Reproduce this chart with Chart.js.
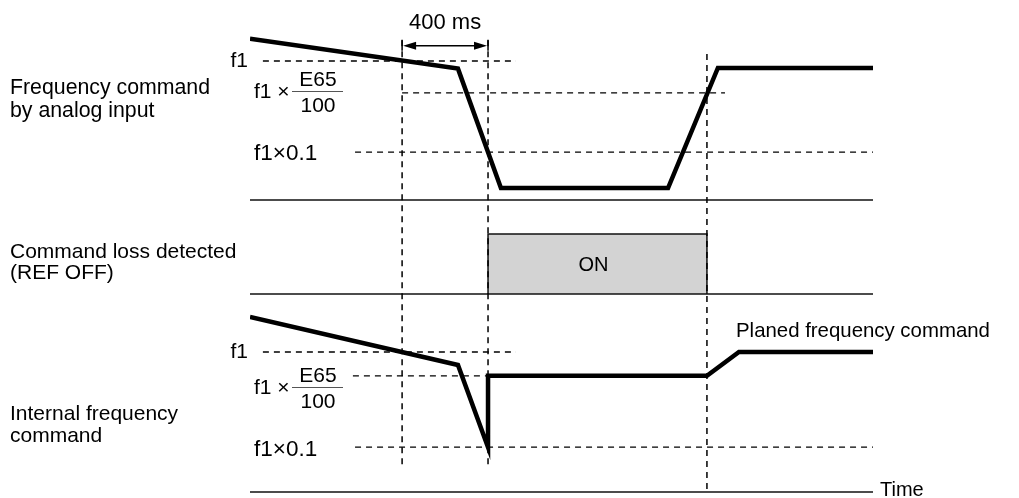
<!DOCTYPE html>
<html>
<head>
<meta charset="utf-8">
<script src="https://cdn.jsdelivr.net/npm/chart.js@4.4.1/dist/chart.umd.min.js"></script>
<style>
    body { margin: 0; background: #fff; }
    #quadro { position: relative; width: 1019px; height: 498px; overflow: hidden; }
    #diagrama { position: absolute; left: 0; top: 0; }
    .rotulo {
        position: absolute;
        font-family: "Liberation Sans", Arial, sans-serif;
        font-size: 20px;
        line-height: 20px;
        color: #000;
        white-space: nowrap;
    }
    .barra { position: absolute; height: 0; border-top: 1.5px solid #555; }
</style>
</head>
<body>
<div id="quadro">
    <canvas id="diagrama" width="1019" height="498"></canvas>
</div>
<script>
// tempo em ms, níveis em % de f1 (o diagrama é esquemático)
const tempoAnalogico = [0, 968, 1168, 1946, 2178, 2900]
const nivelAnalogico = [116, 94.5, 8.6, 8.6, 95, 95]

const tempoInterno = [0, 968, 1108, 1108, 2127, 2276, 2900]
const nivelInterno = [125, 90.7, 32, 83, 83, 100, 100]

// REF OFF ligado entre estes dois instantes
const tempoRefOff = [1108, 2127]

// linhas de referência: f1, f1 x E65/100, f1 x 0.1
const nivelRefAnalogico = [100, 77, 34.5]
const inicioRefAnalogico = [60, 708, 489]
const fimRefAnalogico = [1238, 2211, 2900]
const nivelRefInterno = [100, 83, 32]
const inicioRefInterno = [60, 479, 489]
const fimRefInterno = [1238, 1108, 2900]

// marcas verticais tracejadas
const tempoMarcas = [708, 1108, 2127]
const topoMarcas = [115, 115, 105]   // nível no painel de cima
const fundoMarcas = [18, 18, 0]      // nível no painel de baixo

const tempoFinal = 2900
const atrasoDeteccao = 400 // ms

const titulos = [
    ['Frequency command', 'by analog input'],
    ['Command loss detected', '(REF OFF)'],
    ['Internal frequency', 'command']
]

const ALTURA = 498

// faixa do eixo para que o nível 0 caia em basePx
function faixa(basePx, pxPorUnidade) {
    return { min: -(ALTURA - basePx) / pxPorUnidade, max: basePx / pxPorUnidade }
}

function pontos(xs, ys) {
    return xs.map((x, i) => ({ x: x, y: ys[i] }))
}

function linhaBase(eixo) {
    return {
        data: pontos([0, tempoFinal], [0, 0]),
        yAxisID: eixo,
        borderColor: '#111',
        borderWidth: 1.5,
        pointRadius: 0,
        order: 4
    }
}

function tracejadas(niveis, inicios, fins, eixo) {
    return niveis.map((n, i) => ({
        data: pontos([inicios[i], fins[i]], [n, n]),
        yAxisID: eixo,
        borderColor: '#000',
        borderWidth: 1.3,
        borderDash: [6, 5],
        pointRadius: 0,
        order: 3
    }))
}

function sinal(xs, ys, eixo) {
    return {
        data: pontos(xs, ys),
        yAxisID: eixo,
        borderColor: '#000',
        borderWidth: 4.5,
        borderJoinStyle: 'miter',
        borderCapStyle: 'butt',
        pointRadius: 0,
        tension: 0,
        order: 0
    }
}

// marcas verticais e a seta de 400 ms
const marcasPlugin = {
    id: 'marcas',
    afterDatasetsDraw(chart) {
        const { ctx, scales } = chart
        const x = scales.x
        const yA = scales.yAnalogico
        const yI = scales.yInterno

        ctx.save()
        ctx.strokeStyle = '#000'
        ctx.lineWidth = 1.5
        ctx.setLineDash([6, 5])
        tempoMarcas.forEach((t, i) => {
            const px = x.getPixelForValue(t)
            ctx.beginPath()
            ctx.moveTo(px, yA.getPixelForValue(topoMarcas[i]))
            ctx.lineTo(px, yI.getPixelForValue(fundoMarcas[i]))
            ctx.stroke()
        })

        // seta dupla
        ctx.setLineDash([])
        const x1 = x.getPixelForValue(tempoMarcas[1] - atrasoDeteccao)
        const x2 = x.getPixelForValue(tempoMarcas[1])
        const ys = yA.getPixelForValue(111)
        ctx.beginPath()
        ctx.moveTo(x1, ys - 6)
        ctx.lineTo(x1, ys + 5)
        ctx.moveTo(x2, ys - 6)
        ctx.lineTo(x2, ys + 5)
        ctx.moveTo(x1 + 8, ys)
        ctx.lineTo(x2 - 8, ys)
        ctx.stroke()
        ctx.fillStyle = '#000'
        ctx.beginPath()
        ctx.moveTo(x1 + 1, ys)
        ctx.lineTo(x1 + 14, ys - 4)
        ctx.lineTo(x1 + 14, ys + 4)
        ctx.closePath()
        ctx.moveTo(x2 - 1, ys)
        ctx.lineTo(x2 - 14, ys - 4)
        ctx.lineTo(x2 - 14, ys + 4)
        ctx.closePath()
        ctx.fill()
        ctx.restore()
    }
}

const quadro = document.getElementById('quadro')

// (x, y) = ponto de ancoragem; y é o centro vertical do texto
function rotulo(texto, x, y, alinhar, tamanho) {
    const el = document.createElement('div')
    el.className = 'rotulo'
    el.textContent = texto
    if (tamanho) el.style.fontSize = tamanho + 'px'
    el.style.left = x + 'px'
    el.style.top = (y - 10) + 'px'
    if (alinhar === 'centro') el.style.transform = 'translateX(-50%)'
    if (alinhar === 'direita') el.style.transform = 'translateX(-100%)'
    quadro.appendChild(el)
    return el
}

function fracao(x, yBarra) {
    rotulo('f1 ×', x, yBarra, null, 21)
    const barra = document.createElement('div')
    barra.className = 'barra'
    barra.style.left = (x + 38) + 'px'
    barra.style.width = '51px'
    barra.style.top = yBarra + 'px'
    quadro.appendChild(barra)
    rotulo('E65', x + 64, yBarra - 12, 'centro', 21)
    rotulo('100', x + 64, yBarra + 14, 'centro', 21)
}

function posicionarRotulos(chart) {
    const x = chart.scales.x
    const yA = chart.scales.yAnalogico
    const yR = chart.scales.yRef
    const yI = chart.scales.yInterno

    rotulo(titulos[0][0], 10, 87, null, 21.3)
    rotulo(titulos[0][1], 10, 110, null, 21.3)
    rotulo(titulos[1][0], 10, 251, null, 21)
    rotulo(titulos[1][1], 10, 272, null, 21)
    rotulo(titulos[2][0], 10, 413, null, 21)
    rotulo(titulos[2][1], 10, 435, null, 21)

    rotulo('f1', 248, yA.getPixelForValue(nivelRefAnalogico[0]) - 1.5, 'direita', 21)
    fracao(254, yA.getPixelForValue(nivelRefAnalogico[1]) - 2)
    rotulo('f1×0.1', 254, yA.getPixelForValue(nivelRefAnalogico[2]) + 1, null, 22.5)

    rotulo('f1', 248, yI.getPixelForValue(nivelRefInterno[0]) - 1, 'direita', 21)
    fracao(254, yI.getPixelForValue(nivelRefInterno[1]) + 11)
    rotulo('f1×0.1', 254, yI.getPixelForValue(nivelRefInterno[2]) + 2, null, 22.5)

    const meio = (x.getPixelForValue(tempoMarcas[1] - atrasoDeteccao) + x.getPixelForValue(tempoMarcas[1])) / 2
    rotulo(atrasoDeteccao + ' ms', meio, 21.5, 'centro', 22)
    rotulo('ON', (x.getPixelForValue(tempoRefOff[0]) + x.getPixelForValue(tempoRefOff[1])) / 2 - 4, yR.getPixelForValue(0.5), 'centro')
    rotulo('Planed frequency command', 736, 330, null, 20.4)
    rotulo('Time', x.getPixelForValue(tempoFinal) + 7, 489)
}

const ctx = document.getElementById('diagrama').getContext('2d')

const grafico = new Chart(ctx, {
    type: 'line',
    data: {
        datasets: [
            sinal(tempoAnalogico, nivelAnalogico, 'yAnalogico'),
            sinal(tempoInterno, nivelInterno, 'yInterno'),
            ...tracejadas(nivelRefAnalogico, inicioRefAnalogico, fimRefAnalogico, 'yAnalogico'),
            ...tracejadas(nivelRefInterno, inicioRefInterno, fimRefInterno, 'yInterno'),
            linhaBase('yAnalogico'),
            linhaBase('yRef'),
            linhaBase('yInterno'),
            {
                data: pontos([tempoRefOff[0], tempoRefOff[0], tempoRefOff[1], tempoRefOff[1]], [0, 1, 1, 0]),
                yAxisID: 'yRef',
                borderColor: '#111',
                borderWidth: 1.5,
                backgroundColor: '#d3d3d3',
                fill: 'origin',
                pointRadius: 0,
                order: 5
            }
        ]
    },
    options: {
        responsive: false,
        animation: false,
        devicePixelRatio: 1,
        layout: {
            padding: { left: 250, right: 146, top: 0, bottom: 0 }
        },
        scales: {
            x: { type: 'linear', min: 0, max: tempoFinal, display: false },
            yAnalogico: { type: 'linear', ...faixa(200, 1.39), display: false },
            yRef: { type: 'linear', ...faixa(294, 60), display: false },
            yInterno: { type: 'linear', ...faixa(492, 1.40), display: false }
        },
        plugins: {
            legend: { display: false },
            tooltip: { enabled: false },
            title: { display: false }
        },
        events: []
    },
    plugins: [marcasPlugin]
})

posicionarRotulos(grafico)
</script>
</body>
</html>
